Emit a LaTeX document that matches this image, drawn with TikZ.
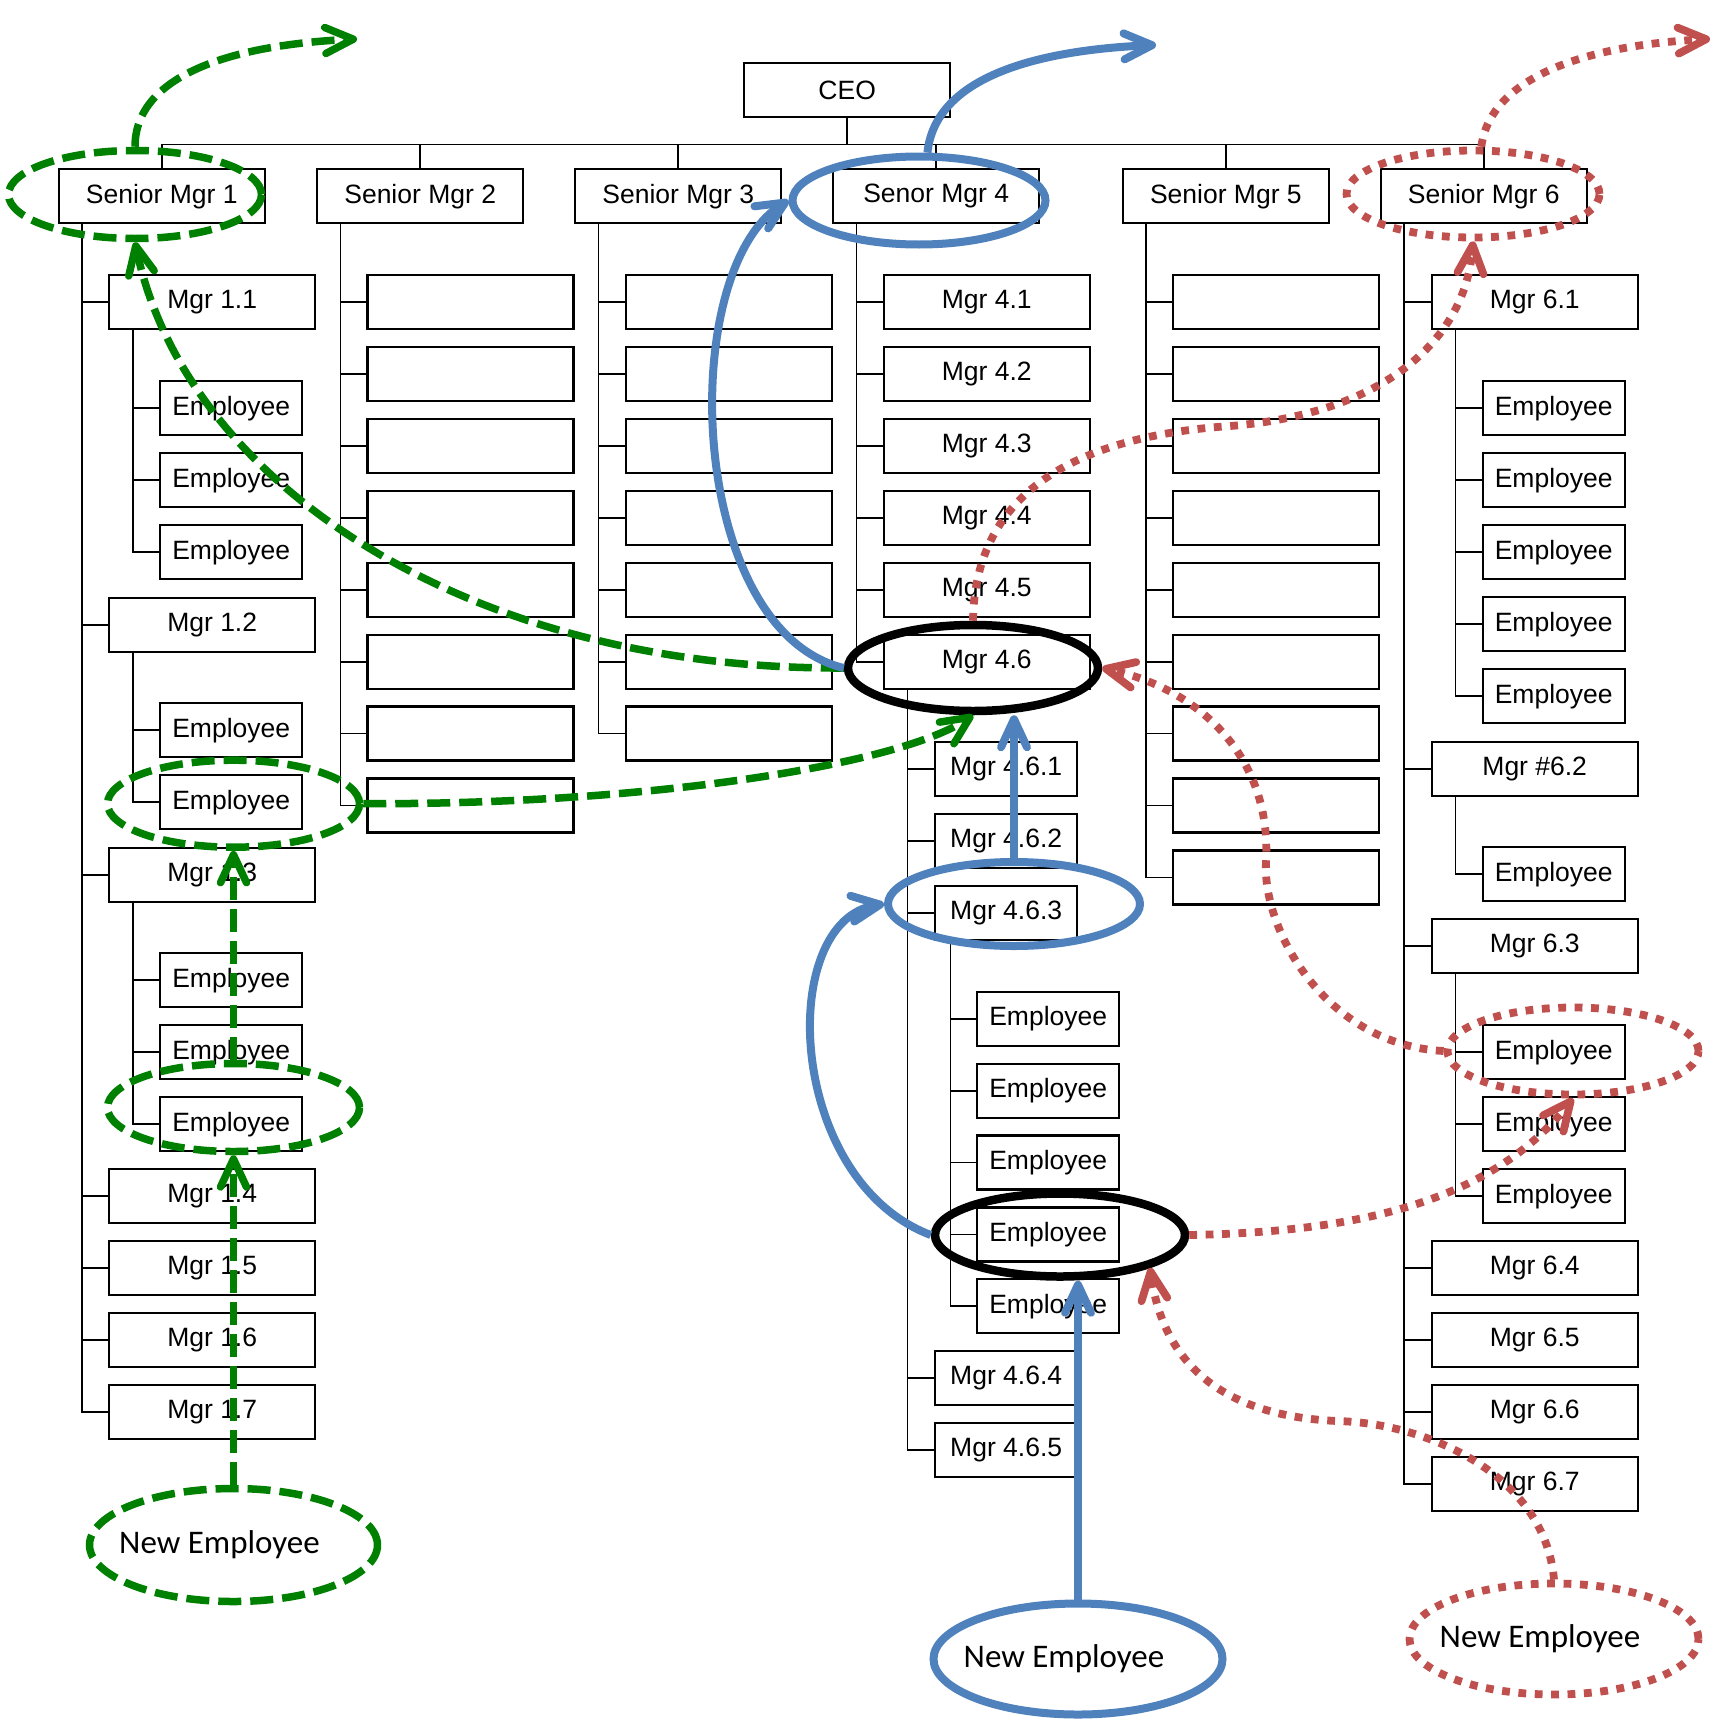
\documentclass[tikz,border=0pt]{standalone}
\usepackage{fontspec}
\setmainfont{Liberation Sans}
\newfontfamily\newempfont{Carlito}
\usetikzlibrary{shapes.geometric,arrows.meta}

\definecolor{greenline}{RGB}{0,128,0}
\definecolor{blueline}{RGB}{79,129,189}
\definecolor{redline}{RGB}{192,80,77}

\tikzset{
  bigbox/.style={draw, line width=1.2pt, minimum width=103pt, minimum height=27pt, inner sep=0pt, anchor=north west, font=\fontsize{13.25}{16}\selectfont},
  smallbox/.style={bigbox, minimum width=71pt},
  orgline/.style={line width=0.8pt},
  newemp/.style={font=\newempfont\fontsize{16.5}{20}\selectfont},
  barb/.style={-{Straight Barb[length=14pt,width=13pt,round]}},
  gring/.style={ellipse, inner sep=0pt, draw=greenline, line width=3.75pt, dash pattern=on 11.5pt off 4.5pt},
  bring/.style={ellipse, inner sep=0pt, draw=blueline, line width=4pt},
  kring/.style={ellipse, inner sep=0pt, draw=black, line width=4.25pt},
  rring/.style={ellipse, inner sep=0pt, draw=redline, line width=3.9pt, dash pattern=on 3.9pt off 4.3pt},
  garrow/.style={barb, draw=greenline, line width=3.75pt, dash pattern=on 11.5pt off 4.5pt},
  barrow/.style={barb, draw=blueline, line width=4pt},
  rarrow/.style={barb, draw=redline, line width=3.9pt, dash pattern=on 3.9pt off 4.3pt},
}

\begin{document}
\begin{tikzpicture}[x=0.5pt,y=0.5pt,yscale=-1,xscale=1]
  \useasboundingbox (0,0) rectangle (1717,1734);

  %Shape: CEO and senior managers
  \node[bigbox] (ceo) at (743,62) {CEO};
  \node[bigbox] (sm1) at (57.6,168) {Senior Mgr 1};
  \node[bigbox] (sm2) at (316,168) {Senior Mgr 2};
  \node[bigbox] (sm3) at (574,168) {Senior Mgr 3};
  \node[bigbox] (sm4) at (832,168) {Senor Mgr 4};
  \node[bigbox] (sm5) at (1121.7,168) {Senior Mgr 5};
  \node[bigbox] (sm6) at (1379.5,168) {Senior Mgr 6};
  \foreach \s in {sm1,sm2,sm3,sm4,sm5,sm6}
    \draw[orgline] (ceo.south) -- ++(0,26) -| (\s.north);

  %Shape: column of Senior Mgr 1
  \node[bigbox] (m11) at (108,274) {Mgr 1.1};
  \node[smallbox] (e111) at (159,380) {Employee};
  \node[smallbox] (e112) at (159,452) {Employee};
  \node[smallbox] (e113) at (159,524) {Employee};
  \node[bigbox] (m12) at (108,597) {Mgr 1.2};
  \node[smallbox] (e121) at (159,702) {Employee};
  \node[smallbox] (e122) at (159,774) {Employee};
  \node[bigbox] (m13) at (108,847) {Mgr 1.3};
  \node[smallbox] (e131) at (159,952) {Employee};
  \node[smallbox] (e132) at (159,1024) {Employee};
  \node[smallbox] (e133) at (159,1096) {Employee};
  \node[bigbox] (m14) at (108,1168) {Mgr 1.4};
  \node[bigbox] (m15) at (108,1240) {Mgr 1.5};
  \node[bigbox] (m16) at (108,1312) {Mgr 1.6};
  \node[bigbox] (m17) at (108,1384) {Mgr 1.7};
  \foreach \c in {m11,m12,m13,m14,m15,m16,m17}
    \draw[orgline] (sm1.south west) ++(24.5,0) |- (\c.west);
  \foreach \c in {e111,e112,e113}
    \draw[orgline] (m11.south west) ++(25,0) |- (\c.west);
  \foreach \c in {e121,e122}
    \draw[orgline] (m12.south west) ++(25,0) |- (\c.west);
  \foreach \c in {e131,e132,e133}
    \draw[orgline] (m13.south west) ++(25,0) |- (\c.west);

  %Shape: empty columns of Senior Mgr 2, 3 and 5
  \foreach \k in {0,...,7} {
    \node[bigbox] (b2\k) at (366.4,274+71.9*\k) {};
    \draw[orgline] (sm2.south west) ++(24.5,0) |- (b2\k.west);
  }
  \foreach \k in {0,...,6} {
    \node[bigbox] (b3\k) at (624.8,274+71.9*\k) {};
    \draw[orgline] (sm3.south west) ++(24.5,0) |- (b3\k.west);
  }
  \foreach \k in {0,...,8} {
    \node[bigbox] (b5\k) at (1172,274+71.9*\k) {};
    \draw[orgline] (sm5.south west) ++(24.5,0) |- (b5\k.west);
  }

  %Shape: column of Senor Mgr 4
  \node[bigbox] (m41) at (882.5,274) {Mgr 4.1};
  \node[bigbox] (m42) at (882.5,345.9) {Mgr 4.2};
  \node[bigbox] (m43) at (882.5,417.8) {Mgr 4.3};
  \node[bigbox] (m44) at (882.5,489.7) {Mgr 4.4};
  \node[bigbox] (m45) at (882.5,561.6) {Mgr 4.5};
  \node[bigbox] (m46) at (882.5,633.5) {Mgr 4.6};
  \node[smallbox] (m461) at (934,741) {Mgr 4.6.1};
  \node[smallbox] (m462) at (934,813) {Mgr 4.6.2};
  \node[smallbox] (m463) at (934,885) {Mgr 4.6.3};
  \node[smallbox] (e4631) at (976,990.6) {Employee};
  \node[smallbox] (e4632) at (976,1062.5) {Employee};
  \node[smallbox] (e4633) at (976,1134.3) {Employee};
  \node[smallbox] (e4634) at (976,1206.2) {Employee};
  \node[smallbox] (e4635) at (976,1278) {Employee};
  \node[smallbox] (m464) at (934,1350) {Mgr 4.6.4};
  \node[smallbox] (m465) at (934,1422) {Mgr 4.6.5};
  \foreach \c in {m41,m42,m43,m44,m45,m46}
    \draw[orgline] (sm4.south west) ++(24.5,0) |- (\c.west);
  \foreach \c in {m461,m462,m463,m464,m465}
    \draw[orgline] (m46.south west) ++(25,0) |- (\c.west);
  \foreach \c in {e4631,e4632,e4633,e4634,e4635}
    \draw[orgline] (m463.south west) ++(16.5,0) |- (\c.west);

  %Shape: column of Senior Mgr 6
  \node[bigbox] (m61) at (1430.5,274) {Mgr 6.1};
  \node[smallbox] (e611) at (1481.5,380) {Employee};
  \node[smallbox] (e612) at (1481.5,452) {Employee};
  \node[smallbox] (e613) at (1481.5,524) {Employee};
  \node[smallbox] (e614) at (1481.5,596) {Employee};
  \node[smallbox] (e615) at (1481.5,668) {Employee};
  \node[bigbox] (m62) at (1430.5,741) {Mgr \#6.2};
  \node[smallbox] (e621) at (1481.5,846) {Employee};
  \node[bigbox] (m63) at (1430.5,918) {Mgr 6.3};
  \node[smallbox] (e631) at (1481.5,1024) {Employee};
  \node[smallbox] (e632) at (1481.5,1096) {Employee};
  \node[smallbox] (e633) at (1481.5,1168) {Employee};
  \node[bigbox] (m64) at (1430.5,1240) {Mgr 6.4};
  \node[bigbox] (m65) at (1430.5,1312) {Mgr 6.5};
  \node[bigbox] (m66) at (1430.5,1384) {Mgr 6.6};
  \node[bigbox] (m67) at (1430.5,1456) {Mgr 6.7};
  \foreach \c in {m61,m62,m63,m64,m65,m66,m67}
    \draw[orgline] (sm6.south west) ++(24.5,0) |- (\c.west);
  \foreach \c in {e611,e612,e613,e614,e615}
    \draw[orgline] (m61.south west) ++(25,0) |- (\c.west);
  \draw[orgline] (m62.south west) ++(25,0) |- (e621.west);
  \foreach \c in {e631,e632,e633}
    \draw[orgline] (m63.south west) ++(25,0) |- (\c.west);

  %Shape: Ellipse
  \node[gring, minimum width=126.5pt, minimum height=44pt] (gSM1) at (135,194.5) {};
  \node[gring, minimum width=126pt, minimum height=43.5pt] (gE122) at (233.5,803.7) {};
  \node[gring, minimum width=126pt, minimum height=44pt] (gE133) at (233.5,1107.5) {};
  \node[gring, newemp, minimum width=144pt, minimum height=56.5pt] (gNew) at (233.5,1545) {\hspace*{-14pt}New Employee};
  \node[bring, minimum width=126.5pt, minimum height=44pt] (bSM4) at (919,200.5) {};
  \node[bring, minimum width=126pt, minimum height=42pt] (b463) at (1014,904) {};
  \node[bring, newemp, minimum width=144.5pt, minimum height=55.5pt] (bNew) at (1078,1659) {\hspace*{-14pt}New Employee};
  \node[kring, minimum width=125pt, minimum height=43pt] (k46) at (973,668) {};
  \node[kring, minimum width=125pt, minimum height=41.5pt] (k4634) at (1060,1235) {};
  \node[rring, minimum width=126.5pt, minimum height=43.5pt] (rSM6) at (1473,194) {};
  \node[rring, minimum width=125.5pt, minimum height=43.5pt] (rE631) at (1573,1051) {};
  \node[rring, newemp, minimum width=144.5pt, minimum height=55.5pt] (rNew) at (1554,1639) {\hspace*{-14pt}New Employee};

  \coordinate (gOut) at (357,39);
  \coordinate (bOut) at (1156,45);
  \coordinate (rOut) at (1710,39);

  %Curve Lines: green
  \draw[garrow] (gNew.north) -- (gE133.south);
  \draw[garrow] (gE133.north) -- (gE122.south);
  \draw[garrow] (gE122.east) .. controls +(290,1) and +(-73,49) .. (k46.south);
  \draw[garrow] (k46.west) .. controls +(-377,2) and +(50,240) .. (gSM1.south);
  \draw[garrow] (gSM1.north) .. controls +(0,-71) and +(-127,6) .. (gOut);

  %Curve Lines: blue
  \draw[barrow] (bSM4.80) .. controls +(8,-77) and +(-116,5) .. (bOut);
  \draw[barrow] (k46.west) .. controls +(-157,-38) and +(-113,70) .. (bSM4.west);
  \draw[barrow] (b463.north) -- (b463.north |- k46.south);
  \draw[barrow] (k4634.west) .. controls +(-145,-55) and +(-108,16) .. (b463.west);
  \draw[barrow] (bNew.north) -- (bNew.north |- k4634.south);

  %Curve Lines: red
  \draw[rarrow] (rSM6.80) .. controls +(9,-71) and +(-120,6) .. (rOut);
  \draw[rarrow] (k46.north) .. controls +(2,-143) and +(-120,10) .. ++(247,-194)
    .. controls +(160,-10) and +(-8,101) .. (rSM6.south);
  \draw[rarrow] (rE631.west) .. controls +(-117,-6) and +(-5,70) .. ++(-177.5,-191)
    .. controls +(5,-100) and +(101,22) .. (k46.east);
  \draw[rarrow] (k4634.east) .. controls +(165,-3) and +(-83,105) .. (rE631.south);
  \draw[rarrow] (rNew.north) .. controls +(-9,-103.5) and +(90,3) .. ++(-214,-158.5)
    .. controls +(-140,-5) and +(10,74) .. (k4634.-20);

\end{tikzpicture}
\end{document}
